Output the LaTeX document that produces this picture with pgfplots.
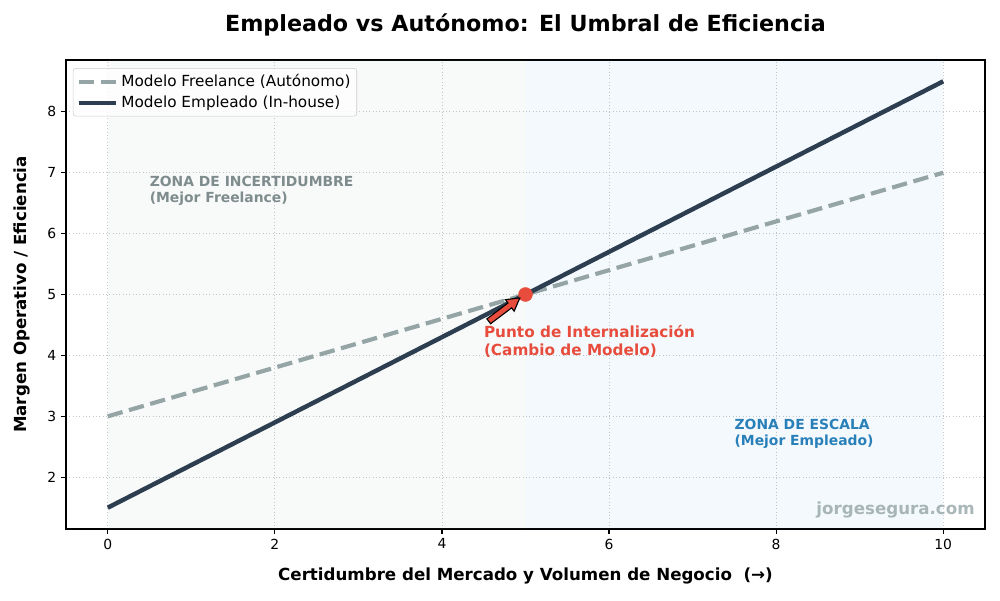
\documentclass[border=0pt]{standalone}
\usepackage{fontspec}
\setmainfont{DejaVu Sans}
\usepackage{pgfplots}
\pgfplotsset{compat=1.18}
\definecolor{freel}{HTML}{95A5A6}
\definecolor{emp}{HTML}{2C3E50}
\definecolor{rojo}{HTML}{E74C3C}
\definecolor{azul}{HTML}{2980B9}
\definecolor{gristxt}{HTML}{7F8C8D}
\definecolor{azulzona}{HTML}{3498DB}
\begin{document}
\begin{tikzpicture}
\begin{axis}[
  name=ax,
  at={(0,0)}, anchor=south west,
  scale only axis,
  width=661.68pt, height=337.68pt,
  xmin=-0.5, xmax=10.5, ymin=1.15, ymax=8.85,
  xtick={0,2,4,6,8,10}, ytick={2,3,4,5,6,7,8},
  tick pos=left, tick align=outside,
  major tick length=3.5pt,
  every tick/.style={black, line width=0.8pt},
  axis line style={line width=0.8pt},
  tick label style={font=\fontsize{10}{12}\selectfont},
  /pgf/number format/assume math mode=true,
  grid=major,
  major grid style={dotted, line width=0.6pt, black!22},
  xlabel={\bfseries Certidumbre del Mercado y Volumen de Negocio\ \ (→)},
  ylabel={\bfseries Margen Operativo / Eficiencia},
  every axis x label/.style={at={(axis description cs:0.5,0)}, anchor=center, yshift=-33.8pt, font=\fontsize{12}{14}\selectfont},
  every axis y label/.style={at={(axis description cs:0,0.5)}, anchor=center, rotate=90, yshift=31.7pt, font=\fontsize{12}{14}\selectfont},
  legend style={at={(axis description cs:0,1)}, anchor=north west, xshift=5pt, yshift=-5.8pt,
    draw=black!20, rounded corners=2pt, fill=white, fill opacity=0.8, text opacity=1,
    font=\fontsize{11}{13}\selectfont, row sep=1.2pt, inner sep=2.5pt},
  legend cell align=left,
  legend image code/.code={\draw[#1] (0pt,0pt) -- (23pt,0pt); \path (0pt,0pt) -- (27pt,0pt);},
]
\addplot[fill=freel, fill opacity=0.07, draw=none, forget plot] coordinates {(0,8.85) (5,8.85)} \closedcycle;
\addplot[fill=azulzona, fill opacity=0.06, draw=none, forget plot] coordinates {(5,8.85) (10,8.85)} \closedcycle;
\addplot[freel, line width=3pt, dash pattern=on 11.1pt off 4.8pt] coordinates {(0,3) (10,7)};
\addlegendentry{Modelo Freelance (Autónomo)}
\addplot[emp, line width=3.2pt] coordinates {(0,1.5) (10,8.5)};
\addlegendentry{Modelo Empleado (In-house)}
\coordinate (tail) at (axis cs:4.56,4.56);
\addplot[only marks, mark=*, mark size=5pt, rojo, mark options={draw=rojo, fill=rojo}, forget plot] coordinates {(5,5)};
\node[anchor=west, inner xsep=0pt, align=left, text=gristxt, font=\bfseries\fontsize{10}{11.5}\selectfont] at (axis cs:0.5,6.7) {ZONA DE INCERTIDUMBRE\\(Mejor Freelance)};
\node[anchor=west, inner xsep=0pt, align=left, text=azul, font=\bfseries\fontsize{10}{11.5}\selectfont] at (axis cs:7.5,2.72) {ZONA DE ESCALA\\(Mejor Empleado)};
\node[anchor=west, inner xsep=0pt, align=left, text=rojo, font=\bfseries\fontsize{11}{13}\selectfont] at (axis cs:4.5,4.23) {Punto de Internalización\\(Cambio de Modelo)};
\node[anchor=east, inner xsep=0pt, text=freel, text opacity=0.8, font=\bfseries\fontsize{12}{14}\selectfont] at (axis description cs:0.989,0.04) {jorgesegura.com};
\end{axis}
\begin{scope}[shift={(tail)}, rotate=37]
\draw[fill=rojo, draw=black, line width=0.8pt, line join=miter]
  (0pt,-2.2pt) -- (19pt,-2.2pt) -- (19pt,-5.2pt) -- (28pt,0pt) -- (19pt,5.2pt) -- (19pt,2.2pt) -- (0pt,2.2pt) -- cycle;
\end{scope}
\node[font=\bfseries\fontsize{16}{19}\selectfont] at ([yshift=25.2pt]ax.north) {Empleado vs Autónomo: El Umbral de Eficiencia};
\pgfresetboundingbox
\path (ax.south west) ++(-47.52pt,-51.12pt) rectangle ++(720pt,432pt);
\end{tikzpicture}
\end{document}
